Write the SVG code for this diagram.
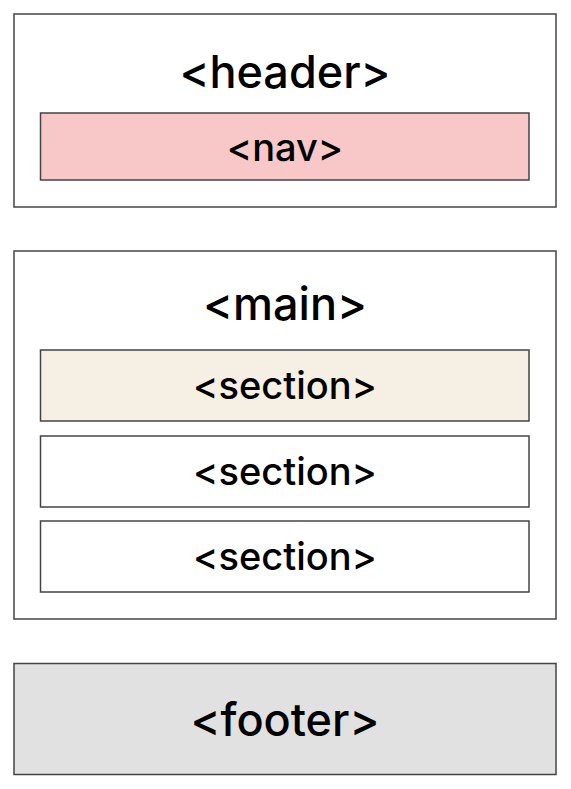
<svg xmlns="http://www.w3.org/2000/svg" width="571" height="789" viewBox="0 0 571 789">
<style>
.box{stroke:#444;stroke-width:1.5}
.t{font-family:Inter,"Noto Sans",sans-serif;font-weight:500;text-anchor:middle;fill:#000}
.big{font-size:45px}
.mid{font-size:38px}
</style>
<rect width="571" height="789" fill="#fff"/>
<g id="header">
<rect class="box" x="14" y="14" width="542" height="193" fill="#fff"/>
<text class="t big" x="285" y="88">&lt;header&gt;</text>
</g>
<g id="nav">
<rect class="box" x="40.5" y="113" width="488.5" height="67" fill="#f8c8c8"/>
<text class="t mid" x="285" y="161">&lt;nav&gt;</text>
</g>
<g id="main">
<rect class="box" x="14" y="251" width="542" height="368" fill="#fff"/>
<text class="t big" x="285" y="320">&lt;main&gt;</text>
</g>
<g id="section1">
<rect class="box" x="40.5" y="350" width="488.5" height="71" fill="#f6efe3"/>
<text class="t mid" x="285" y="399">&lt;section&gt;</text>
</g>
<g id="section2">
<rect class="box" x="40.5" y="436" width="488.5" height="71" fill="#fff"/>
<text class="t mid" x="285" y="485">&lt;section&gt;</text>
</g>
<g id="section3">
<rect class="box" x="40.5" y="521" width="488.5" height="71" fill="#fff"/>
<text class="t mid" x="285" y="570">&lt;section&gt;</text>
</g>
<g id="footer">
<rect class="box" x="14" y="663.5" width="542" height="111" fill="#e1e1e1"/>
<text class="t big" x="285" y="736">&lt;footer&gt;</text>
</g>
<g id="connectors"></g>
</svg>
